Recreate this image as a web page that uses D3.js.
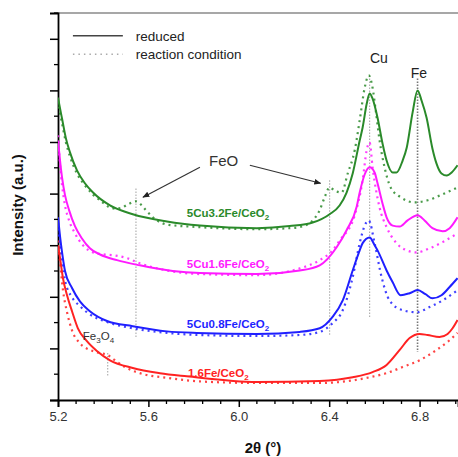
<!DOCTYPE html>
<html><head><meta charset="utf-8">
<script src="https://cdn.jsdelivr.net/npm/d3@7/dist/d3.min.js"></script>
<style>body{margin:0;background:#fff}svg{display:block}text{font-family:"Liberation Sans",Arial,sans-serif}</style>
</head><body><svg id="c" width="458" height="457"></svg>
<script>
// ---- data ----
const xTickValues = [5.2, 5.6, 6.0, 6.4, 6.8];
const xTickLabels = ["5.2", "5.6", "6.0", "6.4", "6.8"];
const seriesNames = ["5Cu3.2Fe/CeO", "5Cu1.6Fe/CeO", "5Cu0.8Fe/CeO", "1.6Fe/CeO"];
const seriesColors = ["#2a8a2a", "#ff1aff", "#1f1fff", "#ff2222"];

const greenReducedX = [5.200,5.209,5.218,5.235,5.253,5.284,5.319,5.355,5.430,5.531,5.682,5.828,6.080,6.225,6.327,6.402,6.446,6.477,6.504,6.535,6.548,6.566,6.579,6.592,6.614,6.636,6.654,6.681,6.698,6.725,6.743,6.769,6.791,6.809,6.831,6.857,6.875,6.897,6.920,6.942,6.968];
const greenReducedY = [5.86,5.65,5.45,5.07,4.80,4.45,4.20,4.02,3.77,3.60,3.46,3.38,3.33,3.37,3.44,3.60,3.77,4.02,4.39,5.03,5.28,5.74,5.94,5.84,5.47,4.97,4.64,4.41,4.41,4.64,4.89,5.57,6.00,5.80,5.47,4.87,4.58,4.39,4.35,4.41,4.55];
const greenReactionX = [5.200,5.209,5.218,5.235,5.253,5.284,5.319,5.355,5.386,5.421,5.452,5.483,5.509,5.545,5.571,5.593,5.638,5.682,5.828,6.080,6.225,6.292,6.327,6.358,6.380,6.402,6.424,6.455,6.482,6.513,6.535,6.557,6.575,6.592,6.606,6.623,6.645,6.672,6.716,6.778,6.835,6.893,6.968];
const greenReactionY = [5.80,5.55,5.36,4.99,4.72,4.39,4.16,3.98,3.87,3.75,3.71,3.73,3.79,3.85,3.77,3.66,3.48,3.40,3.35,3.31,3.33,3.38,3.48,3.68,3.93,4.12,4.06,4.02,4.39,4.84,5.42,6.05,6.29,6.05,5.61,5.03,4.51,4.12,3.93,3.83,3.87,3.97,4.12];

const magentaReducedX = [5.200,5.209,5.218,5.231,5.249,5.275,5.306,5.341,5.386,5.461,5.562,5.708,5.828,6.080,6.270,6.358,6.433,6.477,6.522,6.535,6.557,6.579,6.601,6.614,6.636,6.654,6.681,6.712,6.747,6.791,6.822,6.857,6.902,6.933,6.968];
const magentaReducedY = [5.03,4.64,4.31,3.97,3.68,3.37,3.13,2.94,2.82,2.71,2.61,2.50,2.46,2.44,2.51,2.61,2.96,3.29,3.75,4.02,4.37,4.51,4.41,4.20,3.81,3.54,3.38,3.36,3.48,3.58,3.48,3.33,3.27,3.33,3.54];
const magentaReactionX = [5.200,5.209,5.218,5.231,5.249,5.275,5.310,5.355,5.408,5.452,5.505,5.562,5.682,5.828,6.080,6.270,6.358,6.415,6.446,6.513,6.548,6.566,6.579,6.592,6.623,6.654,6.698,6.743,6.787,6.844,6.902,6.968];
const magentaReactionY = [5.13,4.55,4.16,3.77,3.48,3.23,3.00,2.86,2.82,2.80,2.75,2.65,2.51,2.44,2.42,2.55,2.71,2.90,3.09,3.58,4.26,4.84,4.99,4.51,3.73,3.35,3.04,2.90,2.86,2.94,3.06,3.23];

const blueReducedX = [5.200,5.209,5.218,5.231,5.262,5.297,5.341,5.417,5.531,5.682,5.814,6.080,6.270,6.358,6.415,6.460,6.504,6.535,6.548,6.579,6.601,6.614,6.654,6.681,6.716,6.756,6.791,6.826,6.857,6.897,6.933,6.968];
const blueReducedY = [3.54,3.17,2.86,2.50,2.17,1.91,1.72,1.53,1.43,1.33,1.30,1.28,1.32,1.39,1.61,1.93,2.51,2.90,3.04,3.15,3.00,2.90,2.51,2.28,2.03,2.07,2.13,2.05,1.97,2.03,2.19,2.36];
const blueReactionX = [5.200,5.209,5.218,5.231,5.262,5.297,5.341,5.417,5.531,5.682,5.828,6.080,6.270,6.358,6.415,6.460,6.504,6.535,6.557,6.575,6.601,6.632,6.667,6.725,6.787,6.844,6.902,6.968];
const blueReactionY = [3.44,3.00,2.67,2.32,1.99,1.82,1.66,1.51,1.39,1.30,1.26,1.24,1.26,1.32,1.49,1.74,2.38,3.04,3.38,3.48,3.04,2.38,1.93,1.74,1.70,1.80,1.93,2.13];

const redReducedX = [5.200,5.209,5.222,5.240,5.262,5.288,5.328,5.372,5.430,5.531,5.651,5.770,6.080,6.358,6.504,6.592,6.654,6.712,6.756,6.800,6.835,6.888,6.924,6.946,6.968];
const redReducedY = [3.00,2.75,2.36,2.03,1.72,1.39,1.14,0.95,0.77,0.62,0.52,0.46,0.35,0.37,0.44,0.54,0.68,0.97,1.20,1.28,1.26,1.22,1.28,1.39,1.55];
const redReactionX = [5.200,5.209,5.222,5.240,5.262,5.297,5.341,5.386,5.421,5.452,5.496,5.562,5.682,5.828,6.080,6.358,6.579,6.654,6.725,6.800,6.875,6.933,6.968];
const redReactionY = [3.09,2.67,2.13,1.70,1.35,1.10,0.97,0.91,0.87,0.77,0.64,0.52,0.43,0.36,0.33,0.33,0.44,0.52,0.64,0.77,0.97,1.16,1.30];

// reference lines: position, top, bottom (intensity units)
const refX = [6.579, 6.791, 5.545, 6.402, 5.420];
const refTop = [6.29, 6.23, 4.10, 4.26, 0.91];
const refBottom = [1.61, 0.93, 1.22, 1.26, 0.46];

// ---- chart ----
const svg = d3.select("#c");
const x = d3.scaleLinear().domain([5.2, 6.97]).range([58, 458]);
const y = d3.scaleLinear().domain([0, 7.5]).range([400, 13]);

svg.append("defs").append("clipPath").attr("id","clip")
  .append("rect").attr("x",58).attr("y",13).attr("width",400).attr("height",387);
const arrow = svg.select("defs").append("marker").attr("id","ah")
  .attr("viewBox","0 0 10 10").attr("refX",9).attr("refY",5)
  .attr("markerWidth",7).attr("markerHeight",7).attr("orient","auto")
  .attr("markerUnits","userSpaceOnUse");
arrow.append("path").attr("d","M0,1 L10,5 L0,9 Z").attr("fill","#222");

// top border
svg.append("line").attr("x1",x(5.2)).attr("x2",458).attr("y1",y(7.5)).attr("y2",y(7.5))
  .attr("stroke","#8a8a8a").attr("stroke-width",1.5);

// axes
const xAxis = d3.axisBottom(x).tickValues(xTickValues).tickFormat((d,i)=>xTickLabels[i]).tickSize(7).tickPadding(5);
const gx = svg.append("g").attr("transform",`translate(0,${y(0)})`).call(xAxis);
const xMinor = d3.range(5.2, 6.97, 0.08).filter(v => !xTickValues.some(t => Math.abs(t - v) < 1e-6));
gx.selectAll(".minor").data(xMinor).enter().append("line").attr("class","minor")
  .attr("x1",d=>x(d)).attr("x2",d=>x(d)).attr("y1",0).attr("y2",4).attr("stroke","#000").attr("stroke-width",1.3);
gx.select(".domain").attr("stroke","#000").attr("stroke-width",1.8);
gx.selectAll(".tick line").attr("stroke","#000").attr("stroke-width",1.5);
gx.selectAll(".tick text").attr("font-size",13).attr("fill","#333").attr("font-family","Liberation Sans, Arial, sans-serif");

const yAxis = d3.axisLeft(y).tickValues(d3.range(0, 7.01, 1)).tickFormat("").tickSize(8);
const gy = svg.append("g").attr("transform",`translate(${x(5.2)},0)`).call(yAxis);
gy.selectAll(".minor").data(d3.range(0.5, 7.6, 1)).enter().append("line").attr("class","minor")
  .attr("x1",-4).attr("x2",0).attr("y1",d=>y(d)).attr("y2",d=>y(d)).attr("stroke","#000").attr("stroke-width",1.3);
gy.select(".domain").attr("stroke","#000").attr("stroke-width",1.8);
gy.selectAll(".tick line").attr("stroke","#000").attr("stroke-width",1.5);

// reference dotted lines
const plot = svg.append("g").attr("clip-path","url(#clip)");
plot.selectAll(".ref").data(refX).enter().append("line").attr("class","ref")
  .attr("x1",d=>x(d)).attr("x2",d=>x(d))
  .attr("y1",(d,i)=>y(refTop[i])).attr("y2",(d,i)=>y(refBottom[i]))
  .attr("stroke",(d,i)=> i===1 ? "#777" : "#aaa")
  .attr("stroke-width",(d,i)=> i===1 ? 1.6 : 1.1)
  .attr("stroke-dasharray","1.5,1.5");

const line = d3.line().x(d=>x(d[0])).y(d=>y(d[1])).curve(d3.curveMonotoneX);
const zip = (a,b) => a.map((v,i)=>[v,b[i]]);
const reduced = [zip(greenReducedX,greenReducedY), zip(magentaReducedX,magentaReducedY), zip(blueReducedX,blueReducedY), zip(redReducedX,redReducedY)];
const reaction = [zip(greenReactionX,greenReactionY), zip(magentaReactionX,magentaReactionY), zip(blueReactionX,blueReactionY), zip(redReactionX,redReactionY)];

reaction.forEach((s,i)=>{
  plot.append("path").attr("d",line(s)).attr("fill","none").attr("stroke",seriesColors[i])
    .attr("stroke-width",2.2).attr("stroke-dasharray","2,4").attr("opacity",0.85);
});
reduced.forEach((s,i)=>{
  plot.append("path").attr("d",line(s)).attr("fill","none").attr("stroke",seriesColors[i])
    .attr("stroke-width",2);
});

// series labels
const labelX = [5.77, 5.77, 5.77, 5.775];
const labelY = [3.54, 2.56, 1.39, 0.45];
seriesNames.forEach((n,i)=>{
  const t = svg.append("text").attr("x",x(labelX[i])).attr("y",y(labelY[i]))
    .attr("fill",seriesColors[i]).attr("font-size",11.5).attr("font-weight","bold").text(n);
  t.append("tspan").attr("font-size",8).attr("dy",3).text("2");
});

// Fe3O4 label
const fe3 = svg.append("text").attr("x",x(5.31)).attr("y",y(1.16)).attr("fill","#333").attr("font-size",11.5).text("Fe");
fe3.append("tspan").attr("font-size",8).attr("dy",3).text("3");
fe3.append("tspan").attr("font-size",11.5).attr("dy",-3).text("O");
fe3.append("tspan").attr("font-size",8).attr("dy",3).text("4");

// peak labels
svg.append("text").attr("x",x(6.62)).attr("y",y(6.54)).attr("text-anchor","middle").attr("font-size",14).attr("fill","#222").text("Cu");
svg.append("text").attr("x",x(6.797)).attr("y",y(6.25)).attr("text-anchor","middle").attr("font-size",14).attr("fill","#222").text("Fe");
svg.append("text").attr("x",x(5.933)).attr("y",y(4.53)).attr("text-anchor","middle").attr("font-size",15).attr("fill","#333").text("FeO");
svg.append("line").attr("x1",x(5.828)).attr("y1",y(4.51)).attr("x2",x(5.576)).attr("y2",y(3.93))
  .attr("stroke","#333").attr("stroke-width",1.2).attr("marker-end","url(#ah)");
svg.append("line").attr("x1",x(6.049)).attr("y1",y(4.55)).attr("x2",x(6.362)).attr("y2",y(4.20))
  .attr("stroke","#333").attr("stroke-width",1.2).attr("marker-end","url(#ah)");

// legend
const legendItems = ["reduced", "reaction condition"];
const legendY = [7.06, 6.70];
legendItems.forEach((n,i)=>{
  svg.append("line").attr("x1",x(5.266)).attr("x2",x(5.487)).attr("y1",y(legendY[i])).attr("y2",y(legendY[i]))
    .attr("stroke", i===0 ? "#444" : "#aaa").attr("stroke-width", i===0 ? 1.6 : 1.5)
    .attr("stroke-dasharray", i===0 ? null : "1.5,4");
  svg.append("text").attr("x",x(5.544)).attr("y",y(legendY[i])+5).attr("font-size",13.5).attr("fill","#222").text(n);
});

// axis titles
svg.append("text").attr("transform","translate(23,205) rotate(-90)").attr("text-anchor","middle")
  .attr("font-size",15).attr("font-weight","bold").attr("fill","#111").text("Intensity (a.u.)");
svg.append("text").attr("x",263).attr("y",453).attr("text-anchor","middle")
  .attr("font-size",15).attr("font-weight","bold").attr("fill","#111").text("2θ (°)");
</script></body></html>
